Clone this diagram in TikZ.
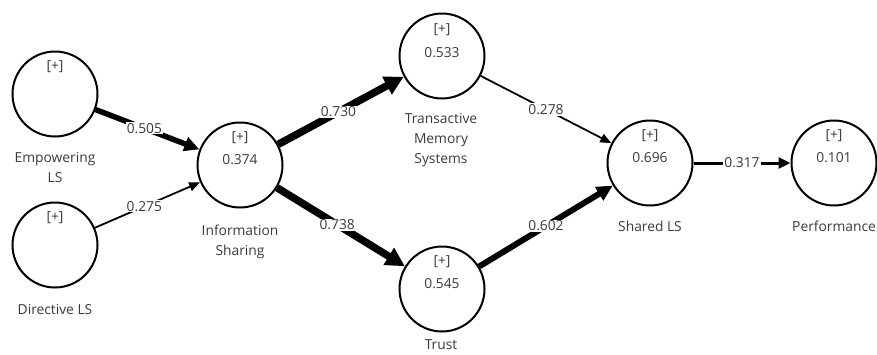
\documentclass[tikz,border=0pt]{standalone}
\usepackage{fontspec}
\setmainfont{Open Sans}
\usetikzlibrary{arrows.meta}
\definecolor{txt}{HTML}{3A3A3A}
\tikzset{
  lv/.style={circle,draw=black,line width=2pt,minimum size=85pt,inner sep=0pt},
  captxt/.style={font=\fontsize{13.8}{20}\selectfont,text=txt,align=center},
  valtxt/.style={font=\fontsize{13.8}{16}\selectfont,text=txt},
  coef/.style={font=\fontsize{13.8}{16}\selectfont,text=txt,fill=white,inner sep=1pt},
}
\begin{document}
\begin{tikzpicture}[x=1pt,y=-1pt]
\useasboundingbox (0,0) rectangle (877,354);
% nodes
\node[lv] (emp) at (55,94) {};
\node[lv] (dir) at (55,245) {};
\node[lv] (is) at (240,165) {};
\node[lv] (tms) at (442,56) {};
\node[lv] (tr) at (442,289) {};
\node[lv] (sls) at (650,163) {};
\node[lv] (perf) at (834,163) {};
% inner texts
\node[valtxt] (emp1) at (55,67) {[+]};
\node[valtxt] (dir1) at (55,218) {[+]};
\node[valtxt] (is1) at (240,138) {[+]};
\node[valtxt] (is2) at (240,160) {0.374};
\node[valtxt] (tms1) at (442,30) {[+]};
\node[valtxt] (tms2) at (442,53) {0.533};
\node[valtxt] (tr1) at (442,262) {[+]};
\node[valtxt] (tr2) at (442,284) {0.545};
\node[valtxt] (sls1) at (650,136) {[+]};
\node[valtxt] (sls2) at (650,158) {0.696};
\node[valtxt] (perf1) at (834,136) {[+]};
\node[valtxt] (perf2) at (834,158) {0.101};
% captions
\node[captxt] (empc) at (55,167) {Empowering\\LS};
\node[captxt] (dirc) at (55,309) {Directive LS};
\node[captxt] (isc) at (240,242) {Information\\Sharing};
\node[captxt] (tmsc) at (441,140) {Transactive\\Memory\\Systems};
\node[captxt] (trc) at (441,345) {Trust};
\node[captxt] (slsc) at (650,226) {Shared LS};
\node[captxt] (perfc) at (834,226) {Performance};
% paths
\draw[line width=5.5pt,-{Triangle[length=15pt,width=14pt]}] (emp) -- node[coef,pos=0.47] (c1) {0.505} (is);
\draw[line width=1.8pt,-{Triangle[length=11pt,width=9pt]}] (dir) -- node[coef,pos=0.47] (c2) {0.275} (is);
\draw[line width=7.5pt,-{Triangle[length=19pt,width=19pt]}] (is) -- node[coef,pos=0.48] (c3) {0.730} (tms);
\draw[line width=7.5pt,-{Triangle[length=19pt,width=19pt]}] (is) -- node[coef,pos=0.47] (c4) {0.738} (tr);
\draw[line width=1.8pt,-{Triangle[length=11pt,width=9pt]}] (tms) -- node[coef,pos=0.5] (c5) {0.278} (sls);
\draw[line width=6pt,-{Triangle[length=16pt,width=15pt]}] (tr) -- node[coef,pos=0.5] (c6) {0.602} (sls);
\draw[line width=3pt,-{Triangle[length=12pt,width=11pt]}] (sls) -- node[coef,pos=0.5] (c7) {0.317} (perf);
\end{tikzpicture}
\end{document}
